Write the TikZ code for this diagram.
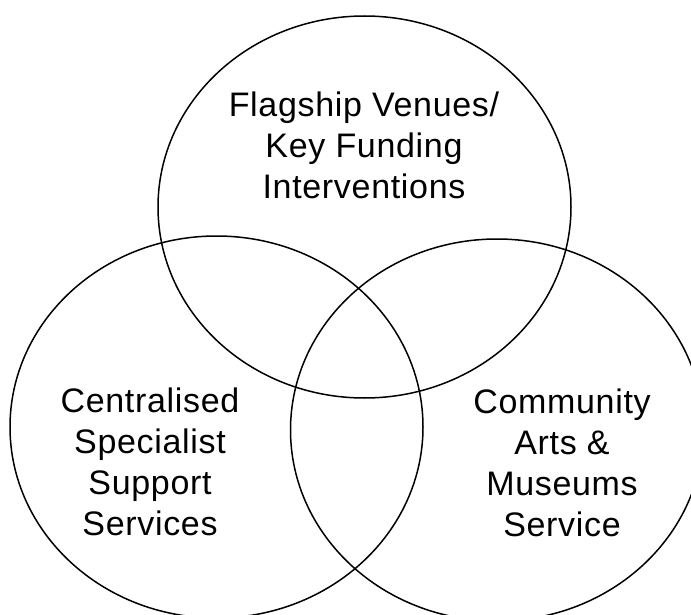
\documentclass[tikz,border=0pt]{standalone}
\usepackage{fontspec}
\setmainfont{Liberation Sans}[LetterSpace=2]
\begin{document}
\begin{tikzpicture}[x=1pt,y=-1pt,
  venn/.style={draw=black,line width=1.5pt},
  lbl/.style={align=center,inner sep=0pt,anchor=base,font=\fontsize{34}{41}\selectfont}]
\useasboundingbox (0,0) rectangle (691,615);
\clip (0,0) rectangle (691,615);
\fill[white] (0,0) rectangle (691,615);
\coordinate (ctop) at (364.5,207);
\coordinate (cleft) at (216.5,427);
\coordinate (cright) at (497,430);
\draw[venn] (ctop) ellipse [x radius=206.5pt, y radius=191pt];
\draw[venn] (cleft) ellipse [x radius=206.5pt, y radius=191pt];
\draw[venn] (cright) ellipse [x radius=206.5pt, y radius=191pt];
\node[lbl] (ttop) at (364,198) {Flagship Venues/\\Key Funding\\Interventions};
\node[lbl] (tleft) at (150,535) {Centralised\\Specialist\\Support\\Services};
\node[lbl] (tright) at (562,536.5) {Community\\Arts \&\\Museums\\Service};
\end{tikzpicture}
\end{document}
